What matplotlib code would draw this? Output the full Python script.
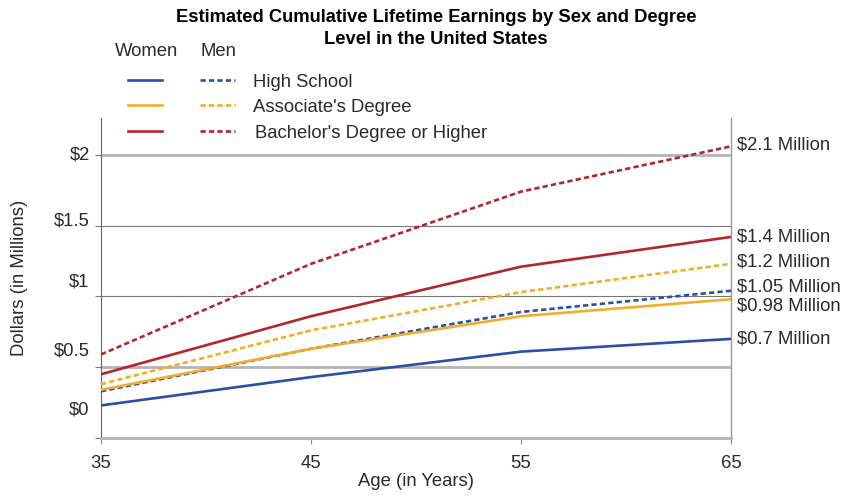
import matplotlib
matplotlib.use('Agg')
import matplotlib.pyplot as plt
from matplotlib.lines import Line2D

plt.rcParams['font.family'] = ['Liberation Sans', 'DejaVu Sans']

ages = [35, 45, 55, 65]
women_hs = [0.23, 0.43, 0.61, 0.70]
men_hs = [0.33, 0.63, 0.89, 1.04]
women_assoc = [0.34, 0.63, 0.86, 0.98]
men_assoc = [0.38, 0.76, 1.03, 1.23]
women_ba = [0.45, 0.86, 1.21, 1.42]
men_ba = [0.59, 1.23, 1.74, 2.06]

degrees = ["High School", "Associate's Degree", "Bachelor's Degree or Higher"]
end_labels = ["$0.7 Million", "$1.05 Million", "$0.98 Million",
              "$1.2 Million", "$1.4 Million", "$2.1 Million"]
title_lines = ["Estimated Cumulative Lifetime Earnings by Sex and Degree",
               "Level in the United States"]
y_ticks = [0, 0.5, 1, 1.5, 2]
y_tick_labels = ["$0", "$0.5", "$1", "$1.5", "$2"]
# the original chart prints its y labels a bit above the gridlines
y_label_pos = [0.20, 0.615, 1.10, 1.53, 2.0]

blue = '#2b4ea6'
orange = '#f2ad2a'
red = '#b0272d'
txt = '#2a2a2a'
fs = 13.3
dash = (2, 1.2)

fig = plt.figure(figsize=(8.46, 4.98), dpi=100)
ax = fig.add_axes([101/846, 1-438/498, 630/846, 320/498])
ax.set_xlim(35, 65)
ax.set_ylim(0, 2.26)

# gridlines
for y in y_ticks:
    if y in (0.5, 2):
        ax.axhline(y, color='#b4b4b4', lw=2.0, zorder=1)
    elif y in (1, 1.5):
        ax.axhline(y, color='#777777', lw=0.8, zorder=1)

series = [
    (women_hs, blue, '-', end_labels[0], 0),
    (men_hs, blue, '--', end_labels[1], 3),
    (women_assoc, orange, '-', end_labels[2], -5),
    (men_assoc, orange, '--', end_labels[3], 1),
    (women_ba, red, '-', end_labels[4], 0),
    (men_ba, red, '--', end_labels[5], 1),
]
for vals, col, ls, lab, off in series:
    if ls == '--':
        ax.plot(ages, vals, color=col, lw=1.9, dashes=dash, zorder=3)
    else:
        ax.plot(ages, vals, color=col, lw=1.9, zorder=3)
    ax.annotate(lab, xy=(ages[-1], vals[-1]), xytext=(4, off),
                textcoords='offset points', va='center', ha='left',
                fontsize=fs, color=txt, annotation_clip=False)

ax.set_xticks(ages)
ax.set_xticklabels([str(a) for a in ages], fontsize=fs, color=txt)
ax.tick_params(axis='x', length=4, color='#888888', pad=8)
ax.set_yticks(y_ticks)
ax.set_yticklabels([])
ax.tick_params(axis='y', length=4, color='#777777')
for y, lab in zip(y_label_pos, y_tick_labels):
    ax.text(-0.018, y, lab, transform=ax.get_yaxis_transform(),
            ha='right', va='center', fontsize=fs, color=txt)

ax.spines['top'].set_visible(False)
ax.spines['bottom'].set_color('#b4b4b4')
ax.spines['bottom'].set_linewidth(2.0)
ax.spines['left'].set_color('#666666')
ax.spines['left'].set_linewidth(0.8)
ax.spines['right'].set_color('#999999')
ax.spines['right'].set_linewidth(1.0)

ax.set_xlabel("Age (in Years)", fontsize=fs, color=txt, labelpad=1)
fig.text(20/846, 1-278/498, "Dollars (in Millions)", rotation=90,
         ha='center', va='center', fontsize=fs, color=txt)

for i, line in enumerate(title_lines):
    fig.text(436/846, 1-(18 + i*22)/498, line, ha='center', va='center',
             fontsize=13.2, fontweight='bold')

# legend
fig.text(147/846, 1-51/498, "Women", ha='center', va='center', fontsize=fs, color=txt)
fig.text(218/846, 1-51/498, "Men", ha='center', va='center', fontsize=fs, color=txt)
for i, (name, col) in enumerate(zip(degrees, [blue, orange, red])):
    yy = 1 - (80 + i*25.5)/498
    fig.add_artist(Line2D([128/846, 162/846], [yy, yy], color=col, lw=1.9))
    fig.add_artist(Line2D([200/846, 235/846], [yy, yy], color=col, lw=1.9, dashes=dash))
    fig.text(253/846 + (0.002 if i == 2 else 0), yy - 2/498, name, ha='left', va='center',
             fontsize=fs, color=txt)

fig.savefig('out.png', dpi=100)
